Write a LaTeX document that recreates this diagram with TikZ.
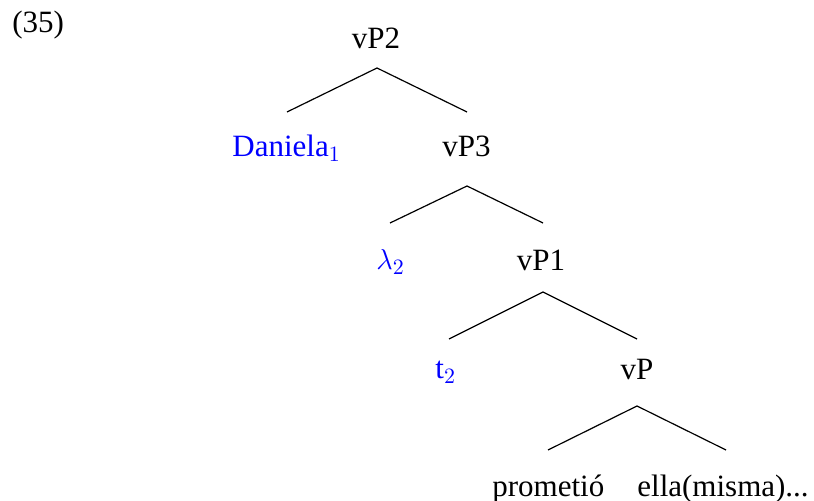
\documentclass[tikz,border=0pt]{standalone}
\usepackage{fontspec}
\setmainfont{Liberation Serif}
\begin{document}
\begin{tikzpicture}[x=0.5pt,y=-0.5pt,
  lbl/.style={inner sep=0pt,font=\fontsize{15.5}{18}\selectfont},
  hl/.style={lbl,text={rgb,255:red,0;green,0;blue,255}},
  branch/.style={line width=0.6pt,black}]
\useasboundingbox (0,0) rectangle (814,501);
\node[lbl,anchor=base west] (ex) at (12,33) {(35)};
\node[lbl,anchor=base] (vPtwo) at (376,49) {vP2};
\node[hl,anchor=base west] (dan) at (232,157) {Daniela$_1$};
\node[lbl,anchor=base] (vPthree) at (466.5,157) {vP3};
\node[hl,anchor=base west] (lam) at (376,270) {$\lambda_2$};
\node[lbl,anchor=base] (vPone) at (541,271) {vP1};
\node[hl,anchor=base west] (tr) at (435,379) {t$_2$};
\node[lbl,anchor=base] (vP) at (637,380) {vP};
\node[lbl,anchor=base west] (prom) at (492,497) {prometió};
\node[lbl,anchor=base west] (ella) at (637,497) {ella(misma)...};
% branch points
\coordinate (a2) at (377,68);
\coordinate (a2l) at (287,112);
\coordinate (a2r) at (467,112);
\coordinate (a3) at (467,186);
\coordinate (a3l) at (390,223);
\coordinate (a3r) at (543,223);
\coordinate (a1) at (543,292);
\coordinate (a1l) at (449,339);
\coordinate (a1r) at (637,339);
\coordinate (a0) at (637,406);
\coordinate (a0l) at (548,450);
\coordinate (a0r) at (726,450);
\draw[branch] (a2l) -- (a2) -- (a2r);
\draw[branch] (a3l) -- (a3) -- (a3r);
\draw[branch] (a1l) -- (a1) -- (a1r);
\draw[branch] (a0l) -- (a0) -- (a0r);
\end{tikzpicture}
\end{document}
